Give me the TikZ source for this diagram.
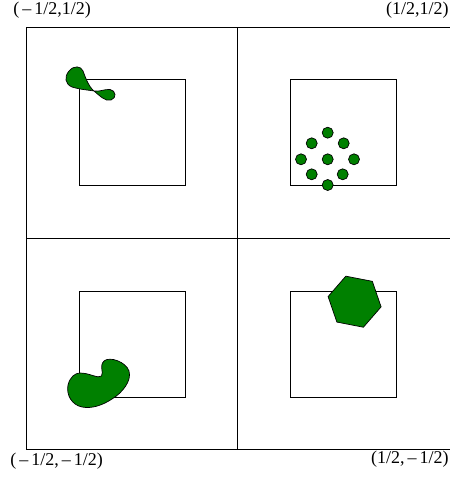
\documentclass[tikz,border=0pt]{standalone}
\usepackage{fontspec}
\setmainfont{Liberation Serif}
\usetikzlibrary{shapes.geometric}

\tikzset{
  blob/.style={fill=green!50!black,draw=black,line width=0.7pt},
  cornerlabel/.style={inner sep=0pt},
}

\begin{document}
\begin{tikzpicture}[x=1pt,y=-1pt,line width=0.8pt,font=\fontsize{18}{20}\selectfont]
\useasboundingbox (0,0) rectangle (449,489);
% outer square and its four cells
\draw (26,27.5) rectangle (450.5,449.2);
\draw (237.7,27.5) -- (237.7,449.2);
\draw (26,238.3) -- (450.5,238.3);
\foreach \cx/\cy in {79/79.3, 290.7/79.3, 79/291, 290.7/291}
  \draw (\cx,\cy) rectangle ++(106,106);
% corner labels
\node[cornerlabel,anchor=base west] (nw) at (13,15) {(\,–\,1/2,1/2)};
\node[cornerlabel,anchor=base east] (ne) at (449,15) {(1/2,1/2)};
\node[cornerlabel,anchor=base west] (sw) at (10,465.5) {(\,–\,1/2,\,–\,1/2)};
\node[cornerlabel,anchor=base east] (se) at (449,463.5) {(1/2,\,–\,1/2)};
% top left: twisted loop
\draw[blob] (94,91) .. controls (88,86) and (85,76) .. (83,71)
  .. controls (81,66) and (74,65) .. (69,71)
  .. controls (64,77) and (65,84) .. (72,87)
  .. controls (80,89.5) and (88,90) .. (94,91)
  .. controls (100,92) and (104,89) .. (110,89.5)
  .. controls (116,90.5) and (117,98) .. (111,100)
  .. controls (105,102) and (99,95) .. (94,91) -- cycle;
% top right: scattered dots
\foreach \dx/\dy in {0/-26.6, -16/-16, 16/-16, -26.7/0, 0/0, 26.3/0, -16/15, 15/15, 0/25.7}
  \fill[blob] (327.7+\dx,159.3+\dy) circle (5.5);
% bottom left: bent blob
\draw[blob] (68,385) .. controls (70,377) and (75,373) .. (80,373)
  .. controls (90,373) and (98,379) .. (101.5,376)
  .. controls (104,372) and (99,366) .. (104,361)
  .. controls (110,356) and (126,362) .. (129,371)
  .. controls (132,381) and (122,393) .. (112,399)
  .. controls (103,405) and (92,409) .. (82,407)
  .. controls (72,405) and (66,395) .. (68,385) -- cycle;
% bottom right: hexagon
\node[blob,regular polygon,regular polygon sides=6,minimum size=54pt,
  inner sep=0pt,rotate=-11] (hex) at (354.6,301.7) {};
\end{tikzpicture}
\end{document}
